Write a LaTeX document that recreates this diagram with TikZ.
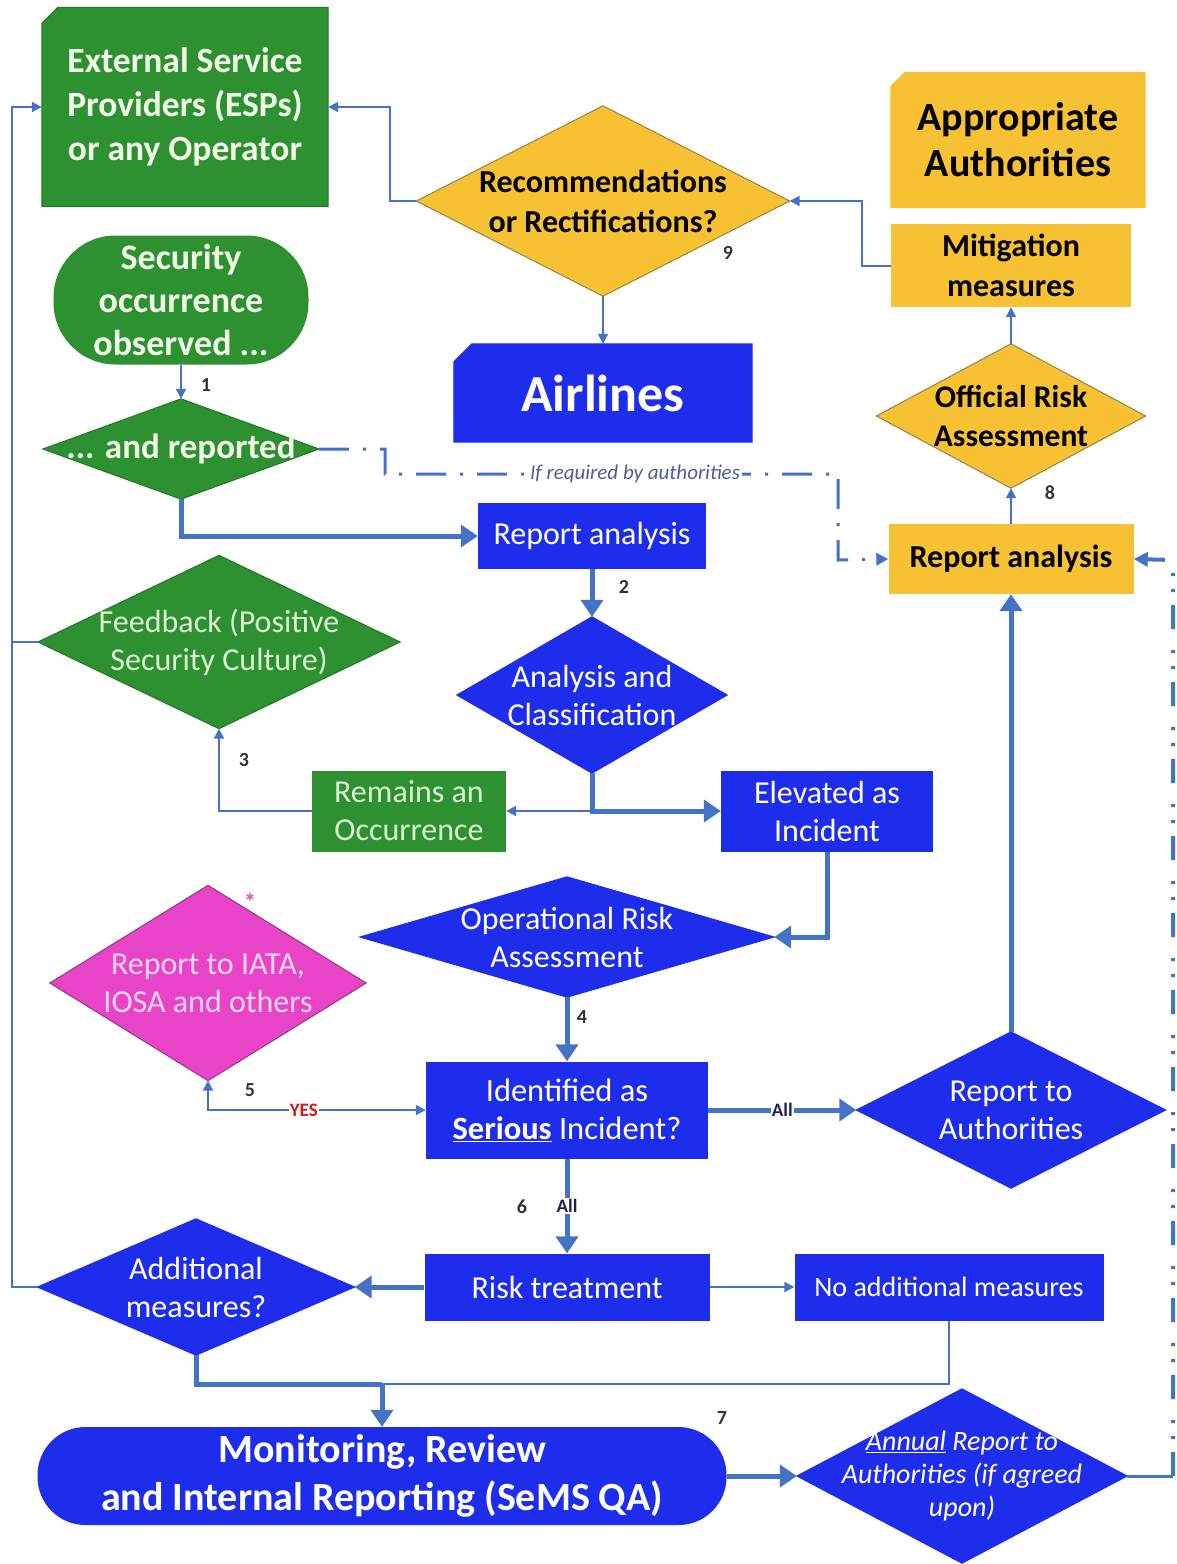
\documentclass[tikz,border=0pt]{standalone}
\usepackage{fontspec}
\setmainfont{Carlito}
\usetikzlibrary{arrows.meta,backgrounds,calc}
\newcommand\fsz[2]{\fontsize{#1}{#2}\selectfont}
\definecolor{gr}{RGB}{45,145,50}
\definecolor{grd}{RGB}{35,120,40}
\definecolor{bl}{RGB}{30,45,235}
\definecolor{ye}{RGB}{246,193,50}
\definecolor{yed}{RGB}{150,130,70}
\definecolor{pk}{RGB}{232,68,200}
\definecolor{pkd}{RGB}{140,60,130}
\definecolor{ln}{RGB}{68,114,196}
\definecolor{gw}{RGB}{242,250,232}
\definecolor{gl}{RGB}{222,242,210}
\definecolor{pl}{RGB}{252,214,240}
\definecolor{numc}{RGB}{55,50,45}
\definecolor{navc}{RGB}{25,35,80}
\definecolor{yesc}{RGB}{200,30,30}
\definecolor{reqc}{RGB}{75,95,145}
\newcommand\diam[3]{\filldraw[fill=#2,draw=#3,line width=1pt] (#1.north)--(#1.east)--(#1.south)--(#1.west)--cycle;}
\newcommand\chamf[4]{\filldraw[fill=#2,draw=#3,line width=1pt] (#1.south west) -- ([yshift=-#4]#1.north west) -- ([xshift=#4]#1.north west) -- (#1.north east) -- (#1.south east) -- cycle;}
\tikzset{
  nd/.style={rectangle, inner sep=0pt, align=center},
  tn/.style={draw=ln, line width=2pt},
  tna/.style={tn, -{Triangle[length=10pt,width=10pt]}},
  tk/.style={draw=ln, line width=5pt},
  tka/.style={tk, -{Triangle[length=17pt,width=22pt]}},
  num/.style={text=numc, font=\fsz{20}{22}\bfseries, inner sep=1pt},
  alllab/.style={fill=white, text=navc, font=\fsz{19}{21}\bfseries, inner sep=1pt},
}
\begin{document}
\begin{tikzpicture}[x=1pt,y=-1pt]
\useasboundingbox (0,0) rectangle (1177,1564);
% nodes
\node[nd, minimum width=286, minimum height=199, text=gw, font=\fsz{35.5}{44}\bfseries] (esp) at (185,107) {External Service\\Providers (ESPs)\\or any Operator};
\node[nd, minimum width=373, minimum height=190, font=\fsz{32}{40}\bfseries] (rec) at (603,201) {Recommendations\\or Rectifications?};
\node[nd, minimum width=254, minimum height=135, font=\fsz{40}{46}\bfseries] (appr) at (1018,140) {Appropriate\\Authorities};
\node[nd, fill=ye, minimum width=240, minimum height=83, font=\fsz{32}{40}\bfseries] (miti) at (1011,265.5) {Mitigation\\measures};
\node[nd, minimum width=298, minimum height=98, text=white, font=\fsz{52}{56}\bfseries] (air) at (603,393) {Airlines};
\node[nd, minimum width=269, minimum height=144, font=\fsz{31.5}{39}\bfseries] (ora) at (1011,416) {Official Risk\\Assessment};
\node[nd, fill=gr, rounded corners=62, minimum width=255, minimum height=129, text=gw, font=\fsz{36}{43}\bfseries] (sec) at (181,300) {Security\\occurrence\\observed ...};
\node[nd, minimum width=276, minimum height=100, text=gw, font=\fsz{35}{40}\bfseries] (rep) at (181,449) {... and reported};
\node[nd, fill=bl, minimum width=228, minimum height=66, text=white, font=\fsz{32}{38}] (ra1) at (592,536) {Report analysis};
\node[nd, fill=ye, minimum width=245, minimum height=70, font=\fsz{32}{38}\bfseries] (ra2) at (1011,559) {Report analysis};
\node[nd, minimum width=362, minimum height=173, text=gl, font=\fsz{32}{38}] (fb) at (219,642) {Feedback (Positive\\Security Culture)};
\node[nd, minimum width=270, minimum height=156, text=white, font=\fsz{32}{38}] (ac) at (592,695) {Analysis and\\Classification};
\node[nd, fill=gr, minimum width=194, minimum height=81, text=gl, font=\fsz{32}{38}] (rem) at (409,811) {Remains an\\Occurrence};
\node[nd, fill=bl, minimum width=212, minimum height=81, text=white, font=\fsz{32}{38}] (elev) at (827,811) {Elevated as\\Incident};
\node[nd, minimum width=414, minimum height=120, text=white, font=\fsz{32}{38}] (opr) at (567,937) {Operational Risk\\Assessment};
\node[nd, minimum width=316, minimum height=195, text=pl, font=\fsz{32}{38}] (iata) at (208,983) {Report to IATA,\\IOSA and others};
\node[nd, fill=bl, minimum width=282, minimum height=97, text=white, font=\fsz{32.5}{38}] (ident) at (567,1110) {Identified as\\\textbf{\underline{Serious}} Incident?};
\node[nd, minimum width=309, minimum height=156, text=white, font=\fsz{32}{38}] (rta) at (1011,1110) {Report to\\Authorities};
\node[nd, minimum width=317, minimum height=136, text=white, font=\fsz{32}{38}] (addm) at (196,1287) {Additional\\measures?};
\node[nd, fill=bl, minimum width=285, minimum height=67, text=white, font=\fsz{32}{38}] (risk) at (567,1287) {Risk treatment};
\node[nd, fill=bl, minimum width=309, minimum height=67, text=white, font=\fsz{28}{36}] (noadd) at (949,1287) {No additional measures};
\node[nd, fill=bl, rounded corners=48, minimum width=689, minimum height=98, text=white, font=\fsz{40}{48}\bfseries] (mon) at (382,1476) {Monitoring, Review\\and Internal Reporting (SeMS QA)};
\node[nd, minimum width=330, minimum height=174, text=white, font=\fsz{28}{33}\itshape] (ann) at (962,1476) {\underline{Annual} Report to\\Authorities (if agreed\\upon)};
% shapes behind text
\begin{scope}[on background layer]
\chamf{esp}{gr}{grd}{16}
\chamf{appr}{ye}{ye}{14}
\chamf{air}{bl}{bl}{18}
\diam{rec}{ye}{yed}
\diam{ora}{ye}{yed}
\diam{rep}{gr}{grd}
\diam{fb}{gr}{grd}
\diam{ac}{bl}{bl}
\diam{opr}{bl}{bl}
\diam{iata}{pk}{pkd}
\diam{rta}{bl}{bl}
\diam{addm}{bl}{bl}
\diam{ann}{bl}{bl}
\end{scope}
% coordinates
\coordinate (cL) at (12,107);
\coordinate (cR) at (390,107);
\coordinate (cM) at (862,201);
\coordinate (cB) at (382,1384);
\coordinate (cE1) at (1173,1476);
\coordinate (cE2) at (1173,560);
\coordinate (cD1) at (385,449);
\coordinate (cD2) at (385,474);
\coordinate (cD3) at (838,474);
\coordinate (cD4) at (838,560);
% connectors
\draw[tna] (addm.west) -| (cL) -- (esp.west);
\draw[tn] (fb.west) -- (fb.west -| cL);
\draw[tna] (rec.west) -| (cR) -- (esp.east);
\draw[tna] (rec.south) -- (air.north);
\draw[tna] (miti.west) -| (cM) -- (rec.east);
\draw[tna] (ora.north) -- (miti.south);
\draw[tna] (ra2.north) -- (ora.south);
\draw[tna] (sec.south) -- (rep.north);
\draw[tka] (rep.south) |- (ra1.west);
\draw[tka] (ra1.south) -- (ac.north);
\draw[tka] (ac.south) |- (elev.west);
\draw[tna] (ac.south |- rem.east) -- (rem.east);
\draw[tna] (rem.west) -| (fb.south);
\draw[tka] (elev.south) |- (opr.east);
\draw[tka] (opr.south) -- (ident.north);
\draw[tn, {Triangle[length=10pt,width=10pt]}-{Triangle[length=10pt,width=10pt]}] (iata.south) |- node[pos=0.72, fill=white, text=yesc, font=\fsz{19}{21}\bfseries, inner sep=1pt] (yes) {YES} (ident.west);
\draw[tka] (ident.east) -- node[pos=0.5, alllab] (all1) {All} (rta.west);
\draw[tka] (rta.north) -- (ra2.south);
\draw[tka] (ident.south) -- node[pos=0.5, alllab] (all2) {All} (risk.north);
\draw[tka] (risk.west) -- (addm.east);
\draw[tna] (risk.east) -- (noadd.west);
\draw[tk] (addm.south) |- (cB);
\draw[tn] (noadd.south) |- (cB);
\draw[tka] (cB) -- (mon.north);
\draw[tka] (mon.east) -- (ann.west);
\draw[draw=ln, line width=3pt] (ann.east) -- (cE1);
\draw[draw=ln, line width=4pt, dash pattern=on 24pt off 13pt on 3pt off 13pt on 3pt off 21pt, -{Triangle[length=14pt,width=14pt]}] (cE1) -- (cE2) -- (ra2.east);
\draw[draw=ln, line width=3pt, dash pattern=on 30pt off 14pt on 3pt off 14pt, -{Triangle[length=12pt,width=12pt]}] (rep.east) -- (cD1) -- (cD2) -- node[pos=0.552, fill=white, text=reqc, font=\fsz{21}{24}\itshape, inner sep=2pt] (req) {If required by authorities} (cD3) -- (cD4) -- (ra2.west);
% numbers
\node[num] (n1) at (206,385) {1};
\node[num] (n2) at (624,587) {2};
\node[num] (n3) at (244,760) {3};
\node[num] (n4) at (582,1017) {4};
\node[num] (n5) at (250,1090) {5};
\node[num] (n6) at (522,1207) {6};
\node[num] (n7) at (722,1418) {7};
\node[num] (n8) at (1050,493) {8};
\node[num] (n9) at (728,253) {9};
\node[text=pk, font=\fsz{24}{26}\bfseries, inner sep=0pt] (ast) at (250,902) {*};
\end{tikzpicture}
\end{document}
